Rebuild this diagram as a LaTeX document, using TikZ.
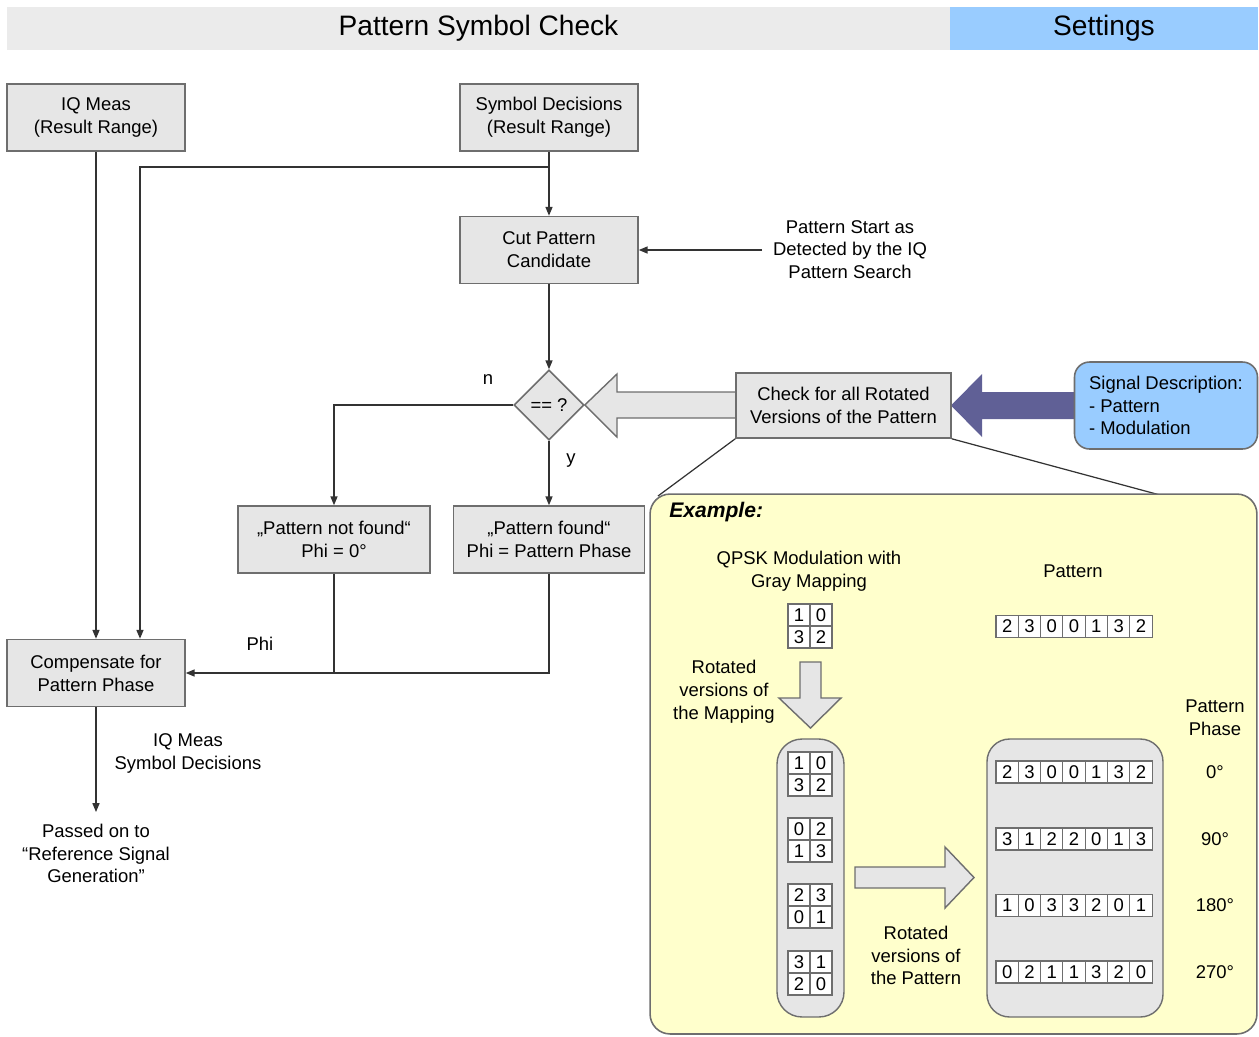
\documentclass[tikz,border=0pt]{standalone}
\usepackage{fontspec}
\setmainfont{Liberation Sans}
\usetikzlibrary{arrows.meta,shapes.geometric,calc}
\definecolor{boxfill}{HTML}{E6E6E6}
\definecolor{boxline}{HTML}{6E6E6E}
\definecolor{hdrgray}{HTML}{EBEBEB}
\definecolor{setblue}{HTML}{99CCFF}
\definecolor{sigblue}{HTML}{99CCFF}
\definecolor{darkarrow}{HTML}{606096}
\definecolor{exyellow}{HTML}{FFFFCC}
\definecolor{linecol}{HTML}{333333}
\newcommand\myfont{\fontsize{10.5}{13}\selectfont}
\newcommand\mapgrid[5]{%
 \node[cell] at (799,#1) {#2};
 \node[cell] at (821,#1) {#3};
 \node[cell] at (799,#1+22) {#4};
 \node[cell] at (821,#1+22) {#5};}
\newcommand\patrow[2]{\foreach \d [count=\i from 0] in {#2} {\node[cell, minimum width=0.446cm] at ({1007.15+\i*22.3},#1) {\d};}}
\begin{document}
\begin{tikzpicture}[x=0.02cm,y=-0.02cm,
 box/.style={draw=boxline, fill=boxfill, line width=0.9pt, align=center, font=\myfont, minimum width=3.56cm, minimum height=1.34cm, inner sep=2pt},
 arr/.style={draw=linecol, line width=0.7pt, -{Triangle[length=5pt,width=4pt]}},
 ln/.style={draw=linecol, line width=0.7pt},
 lbl/.style={font=\myfont, align=center, inner sep=0pt},
 cell/.style={draw=boxline, fill=white, line width=0.6pt, minimum width=0.44cm, minimum height=0.44cm, inner sep=0pt, font=\myfont},
 hollow/.style={draw=boxline, fill=boxfill, line width=0.8pt, line join=miter}]
\useasboundingbox (0,0) rectangle (1259,1036);
% header
\node[fill=hdrgray, minimum width=18.86cm, minimum height=0.86cm, inner sep=0pt, font=\fontsize{16}{19}\selectfont] (hdr) at (478.5,28.5) {Pattern Symbol Check};
\node[fill=setblue, minimum width=6.18cm, minimum height=0.86cm, inner sep=0pt, font=\fontsize{16}{19}\selectfont] (set) at (1104,28.5) {Settings};
% flow boxes
\node[box] (iq) at (96,117.5) {IQ Meas\\(Result Range)};
\node[box] (sd) at (549,117.5) {Symbol Decisions\\(Result Range)};
\node[box] (cut) at (549,250) {Cut Pattern\\Candidate};
\node[draw=boxline, fill=boxfill, line width=0.9pt, diamond, minimum size=1.4cm, inner sep=0pt, font=\myfont] (dia) at (549,405) {== ?};
\node[box, minimum width=3.84cm] (pnf) at (334,539.5) {„Pattern not found“\\Phi = 0°};
\node[box, minimum width=3.82cm] (pf) at (549,539.5) {„Pattern found“\\Phi = Pattern Phase};
\node[box] (comp) at (96,673) {Compensate for\\Pattern Phase};
% big arrows
\draw[hollow] (736,392) -- (617,392) -- (617,374) -- (dia.east) -- (617,437) -- (617,418) -- (736,418) -- cycle;
\fill[darkarrow] (1075,392) -- (982,392) -- (982,374) -- (951,405.5) -- (982,437) -- (982,419) -- (1075,419) -- cycle;
\node[box, minimum width=4.3cm, minimum height=1.3cm] (chk) at (843.5,405.5) {Check for all Rotated\\Versions of the Pattern};
\node[box, fill=sigblue, rounded corners=0.3cm, minimum width=3.66cm, minimum height=1.74cm, align=left] (sig) at (1166,405.5) {Signal Description:\\ - Pattern\\ - Modulation};
% connectors
\draw[arr] (iq.south) -- (comp.north);
\draw[arr] (sd.south) -- (cut.north);
\coordinate (br) at (549,167);
\draw[arr] (br) -| ([xshift=0.88cm]comp.north);
\draw[arr] (cut.south) -- (dia.north);
\draw[arr] (dia.west) -| (pnf.north);
\draw[arr] (dia.south) -- (pf.north);
\draw[ln] (pnf.south) -- (pnf.south |- comp.east);
\draw[arr] (pf.south) |- (comp.east);
\coordinate (pst) at (762,250);
\draw[arr] (pst) -- (cut.east);
\coordinate (passtop) at (96,812);
\draw[arr] (comp.south) -- (passtop);
% labels
\node[lbl] (nlab) at (488,380) {n};
\node[lbl] (ylab) at (571,461) {y};
\node[lbl] (philab) at (260,644) {Phi};
\node[lbl] (outlab) at (188,753.5) {IQ Meas\\Symbol Decisions};
\node[lbl] (pass) at (96,853.5) {Passed on to\\“Reference Signal\\Generation”};
\node[lbl] (pstext) at (850,249.5) {Pattern Start as\\Detected by the IQ\\Pattern Search};
% example
\draw[ln] (chk.south west) -- (658,496);
\draw[ln] (chk.south east) -- (1160,495);
\node[draw=boxline, fill=exyellow, rounded corners=0.4cm, line width=0.9pt, minimum width=12.14cm, minimum height=10.8cm, inner sep=0pt] (ex) at (953.5,764) {};
\node[font=\bfseries\itshape\fontsize{12}{14}\selectfont, anchor=west, inner sep=0pt] (exl) at (669,512) {Example:};
\node[lbl] (qpsk) at (809,571) {QPSK Modulation with\\Gray Mapping};
\node[lbl] (patl) at (1073,571) {Pattern};
\node[lbl] (rotm) at (724,691.5) {Rotated\\versions of\\the Mapping};
\node[lbl] (pph) at (1215,717.5) {Pattern\\Phase};
\node[lbl] (rotp) at (916,955.5) {Rotated\\versions of\\the Pattern};
\draw[hollow] (800,662) -- (821,662) -- (821,698) -- (841,698) -- (810.5,728) -- (779,698) -- (800,698) -- cycle;
\draw[hollow] (855,867) -- (945,867) -- (945,847) -- (974,877.5) -- (945,908) -- (945,888) -- (855,888) -- cycle;
\node[hollow, rounded corners=0.5cm, minimum width=1.34cm, minimum height=5.56cm, inner sep=0pt] (mapc) at (810.5,878) {};
\node[hollow, rounded corners=0.45cm, minimum width=3.52cm, minimum height=5.56cm, inner sep=0pt] (patc) at (1075,878) {};
\mapgrid{615}{1}{0}{3}{2}
\mapgrid{763}{1}{0}{3}{2}
\mapgrid{829}{0}{2}{1}{3}
\mapgrid{895}{2}{3}{0}{1}
\mapgrid{962}{3}{1}{2}{0}
\patrow{626.5}{2,3,0,0,1,3,2}
\patrow{772}{2,3,0,0,1,3,2}
\patrow{839}{3,1,2,2,0,1,3}
\patrow{905.5}{1,0,3,3,2,0,1}
\patrow{972}{0,2,1,1,3,2,0}
\node[lbl] (a0) at (1215,772) {0°};
\node[lbl] (a90) at (1215,839) {90°};
\node[lbl] (a180) at (1215,905.5) {180°};
\node[lbl] (a270) at (1215,972) {270°};
\end{tikzpicture}
\end{document}
